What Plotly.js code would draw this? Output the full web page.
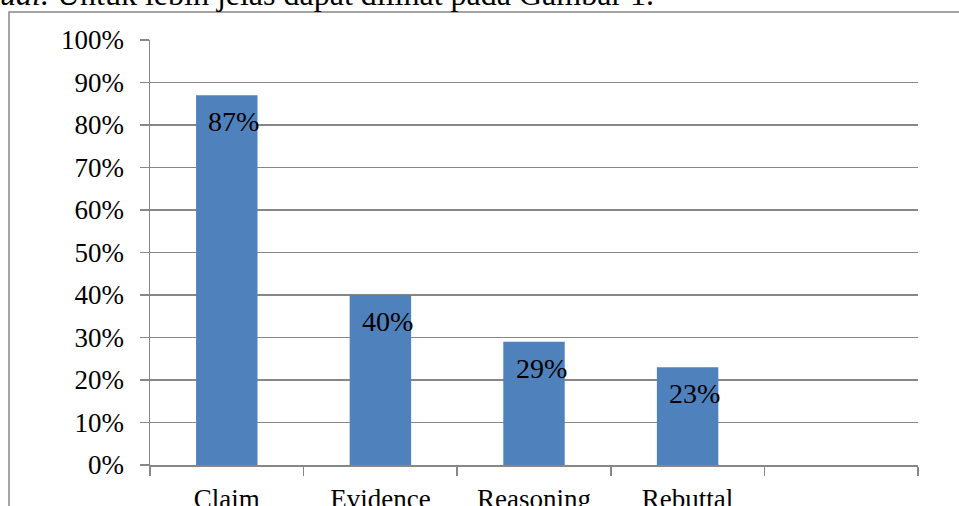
<!DOCTYPE html>
<html>
<head>
<meta charset="utf-8">
<script src="https://cdn.plot.ly/plotly-3.0.1.min.js"></script>
<style>
html,body{margin:0;padding:0;background:#fff;}
#chart{width:959px;height:506px;}
</style>
</head>
<body>
<div id="chart"></div>
<script>
// Data
const categories = ['Claim', 'Evidence', 'Reasoning', 'Rebuttal', ' '];
const values = [0.87, 0.40, 0.29, 0.23, null];
const valueLabels = ['87%', '40%', '29%', '23%'];
const yTickVals = [0, 0.1, 0.2, 0.3, 0.4, 0.5, 0.6, 0.7, 0.8, 0.9, 1.0];
const yTickText = ['0%', '10%', '20%', '30%', '40%', '50%', '60%', '70%', '80%', '90%', '100%'];
const headerText = '<i>ual.</i> Untuk lebih jelas dapat dilihat pada Gambar 1.';

const serif = '"Liberation Serif", "Times New Roman", serif';
const gray = '#878787';

const trace = {
  type: 'bar',
  x: categories,
  y: values,
  marker: {color: '#4f81bd', line: {width: 0}},
  hoverinfo: 'none'
};

const annotations = valueLabels.map((t, i) => ({
  x: categories[i], y: values[i], xref: 'x', yref: 'y',
  text: t, showarrow: false,
  xanchor: 'center', yanchor: 'top',
  xshift: 7, yshift: -9,
  font: {family: serif, size: 28, color: '#000'}
}));

annotations.push({
  x: -0.1979, y: 1.06, xref: 'paper', yref: 'paper',
  xanchor: 'left', yanchor: 'bottom',
  text: headerText, showarrow: false,
  font: {family: serif, size: 32, color: '#000'}
});

const layout = {
  width: 959, height: 506,
  margin: {l: 150, r: 41, t: 40, b: 41, pad: 0},
  paper_bgcolor: '#fff', plot_bgcolor: '#fff',
  showlegend: false,
  bargap: 0.6,
  font: {family: serif, size: 27, color: '#000'},
  xaxis: {
    type: 'category',
    categoryorder: 'array', categoryarray: categories,
    range: [-0.5, 4.5],
    showgrid: false, zeroline: false,
    showline: true, linecolor: gray, linewidth: 1.5,
    ticks: 'outside', tickson: 'boundaries', ticklen: 9, tickwidth: 1.5, tickcolor: gray,
    ticklabelstandoff: 9,
    tickfont: {family: serif, size: 27, color: '#000'},
    fixedrange: true
  },
  yaxis: {
    range: [0, 1],
    tickvals: yTickVals, ticktext: yTickText,
    showgrid: true, gridcolor: gray, gridwidth: 1.5,
    zeroline: false,
    showline: true, linecolor: gray, linewidth: 1.5,
    ticks: 'outside', ticklen: 9, tickwidth: 1.5, tickcolor: gray,
    ticklabelstandoff: 10,
    tickfont: {family: serif, size: 27, color: '#000'},
    fixedrange: true
  },
  shapes: [{
    type: 'rect', xref: 'paper', yref: 'paper',
    x0: -0.1836, x1: 1.2, y0: -0.3, y1: 1.0659,
    line: {color: gray, width: 1.5}, fillcolor: 'rgba(0,0,0,0)', layer: 'below'
  }],
  annotations: annotations
};

Plotly.newPlot('chart', [trace], layout, {staticPlot: true, displayModeBar: false});
</script>
</body>
</html>
